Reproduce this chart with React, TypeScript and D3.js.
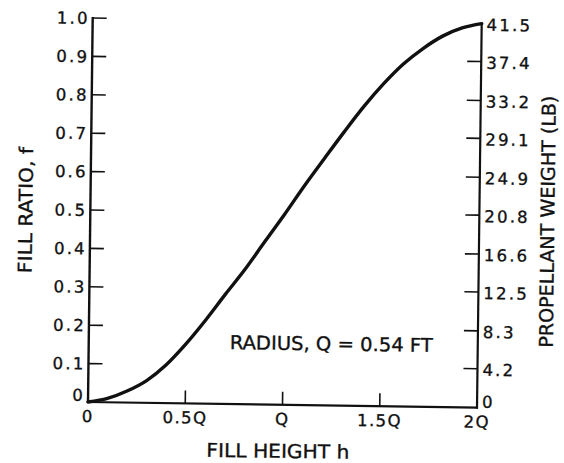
import React from "react";
import * as d3 from "d3";

// Fill height in units of the radius Q, and the fill ratio f
const fillHeight = [0, 0.1, 0.2, 0.3, 0.4, 0.5, 0.6, 0.7, 0.8, 0.9, 1.0, 1.1, 1.2, 1.3, 1.4, 1.5, 1.6, 1.7, 1.8, 1.9, 2.0];
const fillRatio = [0, 0.01, 0.03, 0.058, 0.1, 0.155, 0.218, 0.286, 0.352, 0.425, 0.497, 0.572, 0.643, 0.713, 0.78, 0.84, 0.892, 0.933, 0.966, 0.988, 1.0];

const xTickValues = [0, 0.5, 1, 1.5, 2];
const xTickLabels = ["0", "0.5Q", "Q", "1.5Q", "2Q"];
const leftTickValues = [0, 0.1, 0.2, 0.3, 0.4, 0.5, 0.6, 0.7, 0.8, 0.9, 1.0];
const leftTickLabels = ["0", "0.1", "0.2", "0.3", "0.4", "0.5", "0.6", "0.7", "0.8", "0.9", "1.0"];
const rightTickValues = [0, 4.2, 8.3, 12.5, 16.6, 20.8, 24.9, 29.1, 33.2, 37.4, 41.5];
const rightTickLabels = ["0", "4.2", "8.3", "12.5", "16.6", "20.8", "24.9", "29.1", "33.2", "37.4", "41.5"];

const xTitle = "FILL HEIGHT h";
const leftTitle = "FILL RATIO, f";
const rightTitle = "PROPELLANT WEIGHT (LB)";
const annotation = "RADIUS, Q = 0.54 FT";
const maxWeight = 41.5;

export default function App() {
  const W = 564, H = 463;
  const x0 = 88, x1 = 477, yBottom = 402, yTop = 18;
  const x = d3.scaleLinear().domain([0, 2]).range([x0, x1]);
  const yL = d3.scaleLinear().domain([0, 1]).range([yBottom, yTop]);
  const yR = d3.scaleLinear().domain([0, maxWeight]).range([yBottom, yTop]);

  const pts: [number, number][] = fillHeight.map((h, i) => [h, fillRatio[i]]);
  const line = d3
    .line<[number, number]>()
    .x((d) => x(d[0]))
    .y((d) => yL(d[1]))
    .curve(d3.curveMonotoneX);

  const font = "'DejaVu Sans', Verdana, sans-serif";
  const ink = "#111";
  const textStroke = { stroke: ink, strokeWidth: 0.35 };

  return (
    <svg
      width={W}
      height={H}
      style={{ position: "absolute", left: 0, top: 0, background: "#fff" }}
      fontFamily={font}
    >
      <rect width={W} height={H} fill="#fff" />
      <g transform="matrix(1,0.0145,-0.01224,1,4.92,-1.28)" fill={ink}>
        {/* axes */}
        <line x1={x0} x2={x0} y1={yBottom + 1} y2={yTop - 1} stroke={ink} strokeWidth={2.4} />
        <line x1={x0 - 1} x2={x1 + 1} y1={yBottom} y2={yBottom} stroke={ink} strokeWidth={2.2} />
        <line x1={x1} x2={x1} y1={yBottom + 1} y2={yTop} stroke={ink} strokeWidth={2.2} />

        {/* left ticks */}
        {leftTickValues.map((v, i) => (
          <g key={"l" + i}>
            {v > 0 && (
              <line x1={x0} x2={x0 + 14} y1={yL(v)} y2={yL(v)} stroke={ink} strokeWidth={1.6} />
            )}
            <text
              x={x0 - 3}
              y={v === 0 ? yL(v) - 1 : yL(v) + 6}
              textAnchor="end"
              fontSize={16.5}
              letterSpacing={2.2}
              {...textStroke}
            >
              {leftTickLabels[i]}
            </text>
          </g>
        ))}

        {/* right ticks */}
        {rightTickValues.map((v, i) => (
          <g key={"r" + i}>
            {v > 0 && v < maxWeight && (
              <line x1={x1 - 14} x2={x1} y1={yR(v)} y2={yR(v)} stroke={ink} strokeWidth={1.6} />
            )}
            <text
              x={x1 + 5}
              y={v === 0 ? yR(v) : yR(v) + 7}
              textAnchor="start"
              fontSize={16.5}
              letterSpacing={2.2}
              {...textStroke}
            >
              {rightTickLabels[i]}
            </text>
          </g>
        ))}

        {/* x ticks */}
        {xTickValues.map((v, i) => (
          <g key={"x" + i}>
            {v > 0 && v < 2 && (
              <line x1={x(v)} x2={x(v)} y1={yBottom} y2={yBottom - 13} stroke={ink} strokeWidth={1.6} />
            )}
            <text
              x={x(v)}
              y={yBottom + 20}
              textAnchor="middle"
              fontSize={16.5}
              letterSpacing={1.5}
              {...textStroke}
            >
              {xTickLabels[i]}
            </text>
          </g>
        ))}

        {/* curve */}
        <path d={line(pts) || ""} fill="none" stroke={ink} strokeWidth={3.4} strokeLinecap="round" />

        {/* annotation */}
        <text x={229} y={347} fontSize={19} textLength={203} lengthAdjust="spacingAndGlyphs" {...textStroke}>
          {annotation}
        </text>

        {/* titles */}
        <text x={207} y={455} fontSize={19} textLength={143} lengthAdjust="spacingAndGlyphs" {...textStroke}>
          {xTitle}
        </text>
        <text
          transform={`translate(30,211) rotate(-90)`}
          textAnchor="middle"
          fontSize={19}
          textLength={126}
          lengthAdjust="spacingAndGlyphs"
          {...textStroke}
        >
          {leftTitle}
        </text>
        <text
          transform={`translate(552,215) rotate(-90)`}
          textAnchor="middle"
          fontSize={19}
          textLength={252}
          lengthAdjust="spacingAndGlyphs"
          {...textStroke}
        >
          {rightTitle}
        </text>
      </g>
    </svg>
  );
}
